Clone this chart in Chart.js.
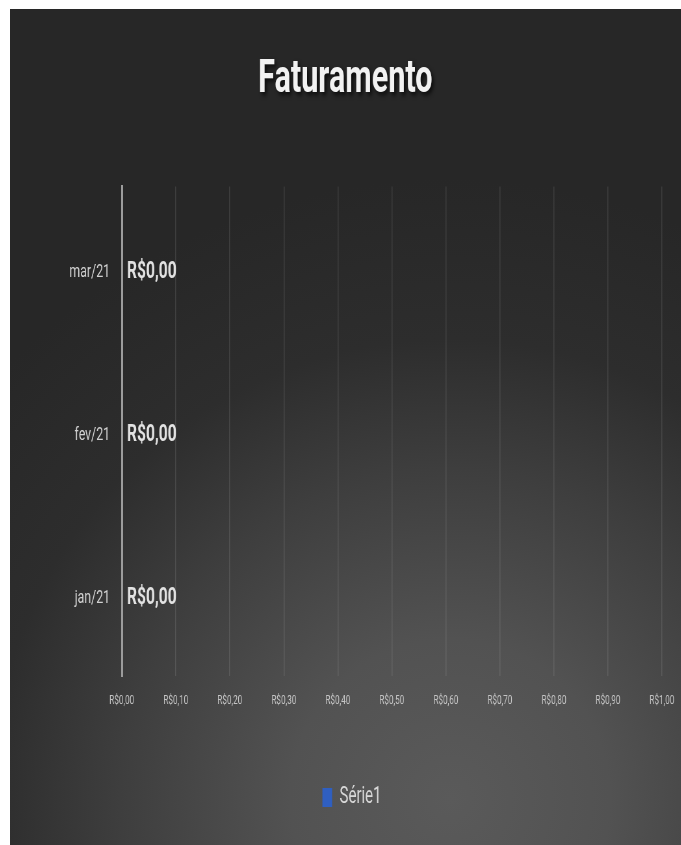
<!DOCTYPE html>
<html>
<head>
<meta charset="utf-8">
<script src="https://cdn.jsdelivr.net/npm/chart.js@4/dist/chart.umd.min.js"></script>
<style>
  body { margin: 0; background: #ffffff; }
  #panel {
    position: absolute;
    left: 10px;
    top: 9px;
    width: 671px;
    height: 836px;
    overflow: hidden;
    background: radial-gradient(circle at 440px 790px, #5a5a5a 0px, #525252 160px, #3e3e3e 330px, #2d2d2d 460px, #272727 620px);
  }
  #chart {
    position: absolute;
    left: 0;
    top: 0;
    transform: scaleX(0.65);
    transform-origin: 0 0;
  }
</style>
</head>
<body>
<div id="panel">
  <canvas id="chart" width="1032" height="836"></canvas>
</div>
<script>
const months = ["jan/21", "fev/21", "mar/21"];
const revenue = [0, 0, 0];
const seriesName = "Série1";
const chartTitle = "Faturamento";

const FONT = "Roboto";
const brl = (v) => "R$" + Number(v).toFixed(2).replace(".", ",");

// value labels next to each bar
const barValueLabels = {
  id: "barValueLabels",
  afterDatasetsDraw(chart) {
    const { ctx } = chart;
    ctx.save();
    ctx.font = `bold 24px ${FONT}`;
    ctx.fillStyle = "#e2e2e2";
    ctx.textBaseline = "middle";
    chart.getDatasetMeta(0).data.forEach((bar, i) => {
      ctx.fillText(brl(revenue[i]), bar.x + 8, bar.y + 4);
    });
    ctx.restore();
  },
};

// title drawn again with a soft drop shadow (the built-in one only reserves the space)
const shadowTitle = {
  id: "shadowTitle",
  afterDraw(chart) {
    const t = chart.titleBlock;
    if (!t) return;
    const { ctx } = chart;
    ctx.save();
    ctx.font = `bold 47px ${FONT}`;
    ctx.fillStyle = "#f2f2f2";
    ctx.textAlign = "center";
    ctx.textBaseline = "middle";
    ctx.shadowColor = "rgba(0,0,0,0.7)";
    ctx.shadowBlur = 5;
    ctx.shadowOffsetX = 3;
    ctx.shadowOffsetY = 3;
    const y = t.top + t.options.padding.top + 28;
    ctx.fillText(chartTitle, (t.left + t.right) / 2, y);
    ctx.restore();
  },
};

// nudge the legend a bit to the right, like the original
const legendShift = {
  id: "legendShift",
  afterLayout(chart) {
    if (chart.legend) {
      chart.legend.left += 10;
      chart.legend.right += 10;
    }
  },
};

new Chart(document.getElementById("chart"), {
  type: "bar",
  data: {
    labels: months,
    datasets: [
      {
        label: seriesName,
        data: revenue,
        backgroundColor: "#2f5fc1",
        borderWidth: 0,
      },
    ],
  },
  options: {
    indexAxis: "y",
    responsive: false,
    devicePixelRatio: 1,
    animation: false,
    layout: { padding: { top: 0, left: 0, right: 0, bottom: 26 } },
    scales: {
      x: {
        min: 0,
        max: 1,
        ticks: {
          stepSize: 0.1,
          color: "#c4c4c4",
          font: { family: FONT, size: 12.5 },
          padding: 17,
          callback: (v) => brl(v),
        },
        grid: {
          color: "rgba(255,255,255,0.11)",
          lineWidth: 1.5,
          drawTicks: false,
        },
        border: { display: false },
        afterFit: (scale) => {
          scale.height = 100;
          scale.paddingRight = 29;
        },
      },
      y: {
        reverse: true,
        ticks: {
          color: "#d2d2d2",
          font: { family: FONT, size: 19 },
          padding: 18,
          labelOffset: 4,
        },
        grid: { display: false, drawTicks: false },
        border: { display: true, color: "#9c9c9c", width: 3 },
        afterFit: (scale) => {
          scale.width = 172;
        },
      },
    },
    plugins: {
      title: {
        display: true,
        text: chartTitle,
        color: "rgba(0,0,0,0)",
        font: { family: FONT, size: 47, weight: "bold" },
        padding: { top: 43, bottom: 78 },
      },
      legend: {
        position: "bottom",
        labels: {
          color: "#d9d9d9",
          font: { family: FONT, size: 23 },
          boxWidth: 15,
          boxHeight: 19,
          padding: 10,
        },
      },
      tooltip: { enabled: false },
    },
  },
  plugins: [barValueLabels, shadowTitle, legendShift],
});
</script>
</body>
</html>
